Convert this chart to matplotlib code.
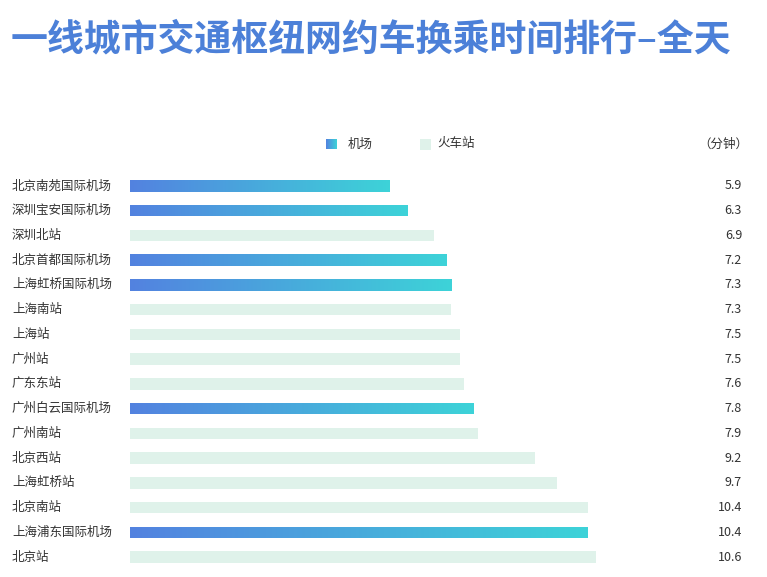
import matplotlib.pyplot as plt
import matplotlib.transforms as mtransforms
from matplotlib.colors import LinearSegmentedColormap
from matplotlib.patches import Rectangle
import numpy as np

plt.rcParams['font.family'] = ['Noto Sans CJK SC', 'DejaVu Sans']

names = ['北京南苑国际机场', '深圳宝安国际机场', '深圳北站', '北京首都国际机场', '上海虹桥国际机场',
         '上海南站', '上海站', '广州站', '广东东站', '广州白云国际机场', '广州南站', '北京西站',
         '上海虹桥站', '北京南站', '上海浦东国际机场', '北京站']
minutes = [5.9, 6.3, 6.9, 7.2, 7.3, 7.3, 7.5, 7.5, 7.6, 7.8, 7.9, 9.2, 9.7, 10.4, 10.4, 10.6]
kinds = ['机场', '机场', '火车站', '机场', '机场', '火车站', '火车站', '火车站', '火车站', '机场',
         '火车站', '火车站', '火车站', '火车站', '机场', '火车站']

blue = '#5382e0'
cyan = '#3dd3d8'
rail = '#dff2ea'
grad = LinearSegmentedColormap.from_list('g', [blue, cyan])

W, H = 767, 577
fig = plt.figure(figsize=(W / 100, H / 100), dpi=100)

# axes placed in pixels: x zero at 130px, 44px per minute; rows from y=186 to 557
left, right = 130, 742
top, bottom = 186 - 12.4, 557 + 12.4
ax = fig.add_axes([left / W, 1 - bottom / H, (right - left) / W, (bottom - top) / H])
ax.set_xlim(0, (right - left) / 44.0)
ax.set_ylim(len(names) - 0.5, -0.5)
ax.axis('off')

bar_h = 0.46
ys = np.arange(len(names))
bars = ax.barh(ys, minutes, height=bar_h,
               color=[rail if k == '火车站' else 'none' for k in kinds], linewidth=0)

g = np.linspace(0, 1, 256).reshape(1, -1)
for b, k, v, y in zip(bars, kinds, minutes, ys):
    if k == '机场':
        im = ax.imshow(g, cmap=grad, aspect='auto', extent=[0, v, y + bar_h / 2, y - bar_h / 2],
                       interpolation='bicubic', zorder=2)
        im.set_clip_path(b)

fig_x = mtransforms.blended_transform_factory(fig.transFigure, ax.transData)
ax_x = mtransforms.blended_transform_factory(ax.transAxes, ax.transData)
for n, v, y in zip(names, minutes, ys):
    ax.text(12 / W, y, n, transform=fig_x, ha='left', va='center', fontsize=9,
            fontweight='medium', color='#333333')
    ax.text(1.0, y, f'{v}', transform=ax_x, ha='right', va='center', fontsize=9,
            fontweight='medium', color='#333333')

fig.text(11 / W, 1 - 40 / H, '一线城市交通枢纽网约车换乘时间排行–全天', ha='left', va='center',
         fontsize=26.6, fontweight='bold', color='#4c80d8')

# legend
ly = 1 - 144 / H
sq = 11
lg = fig.add_axes([326 / W, ly - sq / 2 / H, sq / W, sq / H])
lg.imshow(g, cmap=grad, aspect='auto', extent=[0, 1, 0, 1])
lg.axis('off')
fig.patches.append(Rectangle((420 / W, ly - sq / 2 / H), sq / W, sq / H, transform=fig.transFigure,
                             color=rail, linewidth=0))
fig.text(348 / W, ly, '机场', ha='left', va='center', fontsize=9, color='#333333')
fig.text(437 / W, ly, '火车站', ha='left', va='center', fontsize=9, color='#333333')
fig.text(748 / W, ly, '（分钟）', ha='right', va='center', fontsize=9, color='#333333')

fig.savefig('out.png', dpi=100)
